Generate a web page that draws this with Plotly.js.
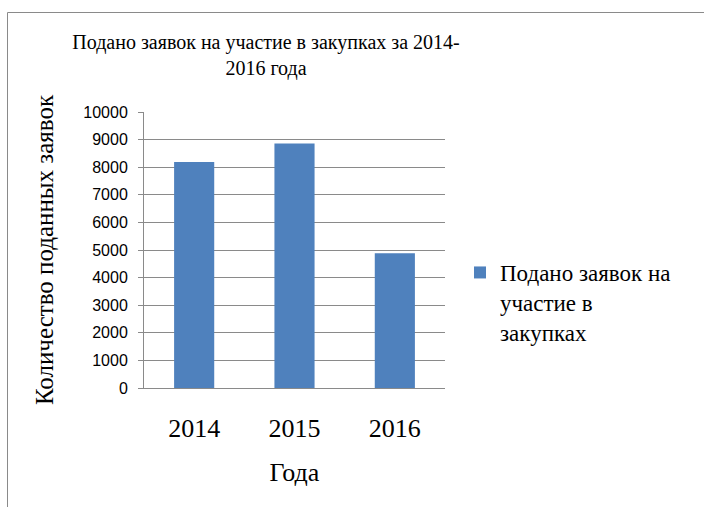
<!DOCTYPE html>
<html>
<head>
<meta charset="utf-8">
<script src="https://cdn.plot.ly/plotly-3.0.1.min.js"></script>
<style>
  html, body { margin: 0; padding: 0; background: #fff; }
</style>
</head>
<body>
<div id="chart"></div>
<script>
const years = ['2014', '2015', '2016'];
const applications = [8190, 8860, 4880];
const seriesName = 'Подано заявок на<br>участие в<br>закупках';
const yTicks = [0, 1000, 2000, 3000, 4000, 5000, 6000, 7000, 8000, 9000, 10000];

const serif = 'Liberation Serif';
const sans = 'Liberation Sans';

// plot area in pixels: x 144..445, y 112..388
const PL = 144, PR = 445, PT = 112, PB = 388;
const px = v => (v - PL) / (PR - PL);
const py = v => (PB - v) / (PB - PT);

const trace = {
  type: 'bar',
  x: years,
  y: applications,
  name: seriesName,
  marker: { color: '#4f81bd' },
  showlegend: true
};

const layout = {
  width: 704,
  height: 507,
  paper_bgcolor: '#ffffff',
  plot_bgcolor: '#ffffff',
  font: { family: serif, color: '#000000' },
  margin: { l: PL, r: 704 - PR, t: PT, b: 507 - PB },
  bargap: 0.6,
  title: {
    text: 'Подано заявок на участие в закупках за 2014-<br>2016 года',
    font: { family: serif, size: 20, color: '#000000' },
    x: 266 / 704, xanchor: 'center', xref: 'container',
    y: 1 - 49 / 507, yanchor: 'top', yref: 'container'
  },
  xaxis: {
    type: 'category',
    tickfont: { family: serif, size: 26, color: '#000000' },
    ticks: '',
    ticklabelstandoff: 17,
    showline: true, linecolor: '#8a8a8a', linewidth: 1,
    showgrid: false,
    zeroline: false,
    title: { text: 'Года', font: { family: serif, size: 26, color: '#000000' }, standoff: 20 }
  },
  yaxis: {
    range: [0, 10000],
    tickvals: yTicks,
    ticktext: yTicks.map(String),
    tickfont: { family: sans, size: 16, color: '#000000' },
    ticks: 'outside', ticklen: 5, tickcolor: '#8a8a8a', tickwidth: 1,
    ticklabelstandoff: 7,
    showline: true, linecolor: '#8a8a8a', linewidth: 1,
    showgrid: true, gridcolor: '#8a8a8a', gridwidth: 1,
    zeroline: false,
    title: { text: 'Количество поданных заявок', font: { family: serif, size: 25, color: '#000000' }, standoff: 22 }
  },
  showlegend: true,
  legend: {
    x: px(460), xanchor: 'left',
    y: py(251), yanchor: 'top',
    valign: 'top',
    font: { family: serif, size: 23, color: '#000000' },
    bgcolor: 'rgba(0,0,0,0)'
  },
  shapes: [
    { type: 'line', xref: 'paper', yref: 'paper', x0: px(7.5), x1: px(7.5), y0: py(12.5), y1: py(520), line: { color: '#8a8a8a', width: 1 } },
    { type: 'line', xref: 'paper', yref: 'paper', x0: px(7.5), x1: px(720), y0: py(12.5), y1: py(12.5), line: { color: '#8a8a8a', width: 1 } }
  ]
};

Plotly.newPlot('chart', [trace], layout, { staticPlot: true, displayModeBar: false });
</script>
</body>
</html>
